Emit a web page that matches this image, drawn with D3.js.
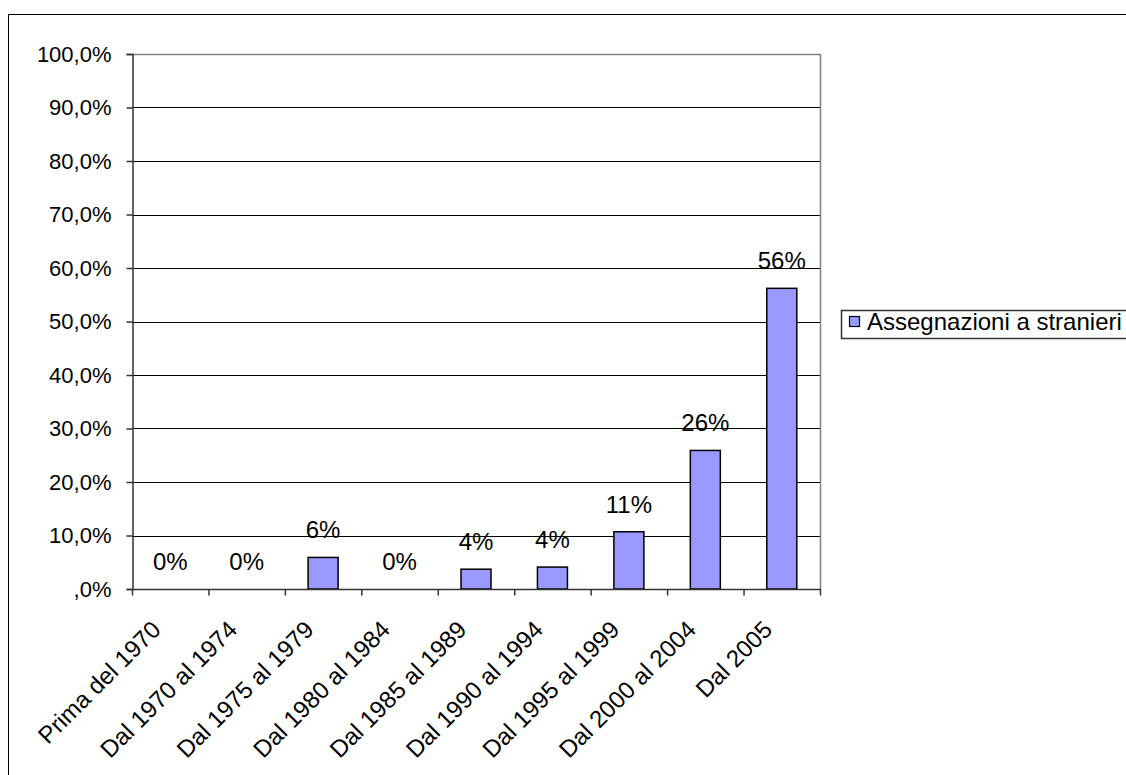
<!DOCTYPE html>
<html>
<head>
<meta charset="utf-8">
<script src="https://cdn.jsdelivr.net/npm/d3@7"></script>
<style>
  html, body { margin: 0; padding: 0; background: #fff; }
  svg { display: block; }
  text { font-family: "Liberation Sans", Arial, sans-serif; fill: #000; }
</style>
</head>
<body>
<svg id="chart" width="1126" height="775"></svg>
<script>
const categories = ["Prima del 1970", "Dal 1970 al 1974", "Dal 1975 al 1979", "Dal 1980 al 1984",
  "Dal 1985 al 1989", "Dal 1990 al 1994", "Dal 1995 al 1999", "Dal 2000 al 2004", "Dal 2005"];
const values = [0, 0, 5.9, 0, 3.7, 4.1, 10.7, 25.9, 56.2];
const valueLabels = ["0%", "0%", "6%", "0%", "4%", "4%", "11%", "26%", "56%"];
const yTicks = [0, 10, 20, 30, 40, 50, 60, 70, 80, 90, 100];
const yTickLabels = [",0%", "10,0%", "20,0%", "30,0%", "40,0%", "50,0%", "60,0%", "70,0%", "80,0%", "90,0%", "100,0%"];
const seriesName = "Assegnazioni a stranieri";

const svg = d3.select("#chart");
const pLeft = 132, pRight = 820, pTop = 54, pBottom = 589;

// outer frame
svg.append("rect").attr("x", 8.5).attr("y", 14.5).attr("width", 1140).attr("height", 800)
  .attr("fill", "none").attr("stroke", "#000").attr("stroke-width", 1);

const x = d3.scaleBand().domain(categories).range([pLeft, pRight]).paddingInner(0).paddingOuter(0);
const y = d3.scaleLinear().domain([0, 100]).range([pBottom, pTop]);

// gridlines
svg.append("g").selectAll("line").data(yTicks.filter(d => d > 0)).join("line")
  .attr("x1", pLeft).attr("x2", pRight)
  .attr("y1", d => Math.round(y(d)) + 0.5).attr("y2", d => Math.round(y(d)) + 0.5)
  .attr("stroke", "#000").attr("stroke-width", 1);

// plot area border (right, top)
svg.append("line").attr("x1", pRight + 0.5).attr("x2", pRight + 0.5).attr("y1", pTop).attr("y2", pBottom)
  .attr("stroke", "#808080").attr("stroke-width", 1.5);
svg.append("line").attr("x1", pLeft).attr("x2", pRight).attr("y1", pTop + 0.5).attr("y2", pTop + 0.5)
  .attr("stroke", "#808080").attr("stroke-width", 1.5);

// Y axis
const yAxis = d3.axisLeft(y).tickValues(yTicks).tickFormat((d, i) => yTickLabels[i]).tickSizeOuter(0).tickSize(6).tickPadding(15);
const gy = svg.append("g").attr("transform", `translate(${pLeft + 0.5},0)`).call(yAxis);
gy.select(".domain").attr("stroke", "#333").attr("stroke-width", 1.5);
gy.selectAll(".tick line").attr("stroke", "#333").attr("stroke-width", 1.5);
gy.selectAll(".tick text").attr("font-size", 22).attr("font-family", "Liberation Sans, Arial, sans-serif").attr("fill", "#000");

// bars
svg.append("g").selectAll("rect").data(values).join("rect")
  .attr("x", (d, i) => x(categories[i]) + x.bandwidth() / 2 - 15)
  .attr("width", 30)
  .attr("y", d => y(d))
  .attr("height", d => pBottom - y(d))
  .attr("fill", "#9999FF").attr("stroke", "#000").attr("stroke-width", 1.5);

// X axis
const xAxisLine = svg.append("g").attr("transform", `translate(0,${pBottom + 0.5})`);
xAxisLine.append("line").attr("x1", pLeft).attr("x2", pRight + 1).attr("y1", 0).attr("y2", 0)
  .attr("stroke", "#333").attr("stroke-width", 1.5);
const boundaries = categories.map(c => x(c)).concat([pRight]);
xAxisLine.selectAll("line.tk").data(boundaries).join("line").attr("class", "tk")
  .attr("x1", d => d + 0.5).attr("x2", d => d + 0.5).attr("y1", 0).attr("y2", 6)
  .attr("stroke", "#333").attr("stroke-width", 1.5);

// x labels rotated
svg.append("g").selectAll("text").data(categories).join("text")
  .attr("transform", d => `translate(${x(d) + x.bandwidth() / 2 - 8},${pBottom + 42}) rotate(-45)`)
  .attr("text-anchor", "end")
  .attr("font-size", 24)
  .text(d => d);

// data labels
svg.append("g").selectAll("text").data(values).join("text")
  .attr("x", (d, i) => x(categories[i]) + x.bandwidth() / 2)
  .attr("y", d => y(d) - 19)
  .attr("text-anchor", "middle")
  .attr("font-size", 24)
  .text((d, i) => valueLabels[i]);

// legend
const lg = svg.append("g");
lg.append("rect").attr("x", 841.5).attr("y", 310.5).attr("width", 300).attr("height", 28)
  .attr("fill", "#fff").attr("stroke", "#333").attr("stroke-width", 1.5);
lg.append("rect").attr("x", 849.5).attr("y", 316.5).attr("width", 10).attr("height", 10)
  .attr("fill", "#9999FF").attr("stroke", "#000").attr("stroke-width", 1.2);
lg.append("text").attr("x", 867).attr("y", 330).attr("font-size", 24).text(seriesName);
</script>
</body>
</html>
